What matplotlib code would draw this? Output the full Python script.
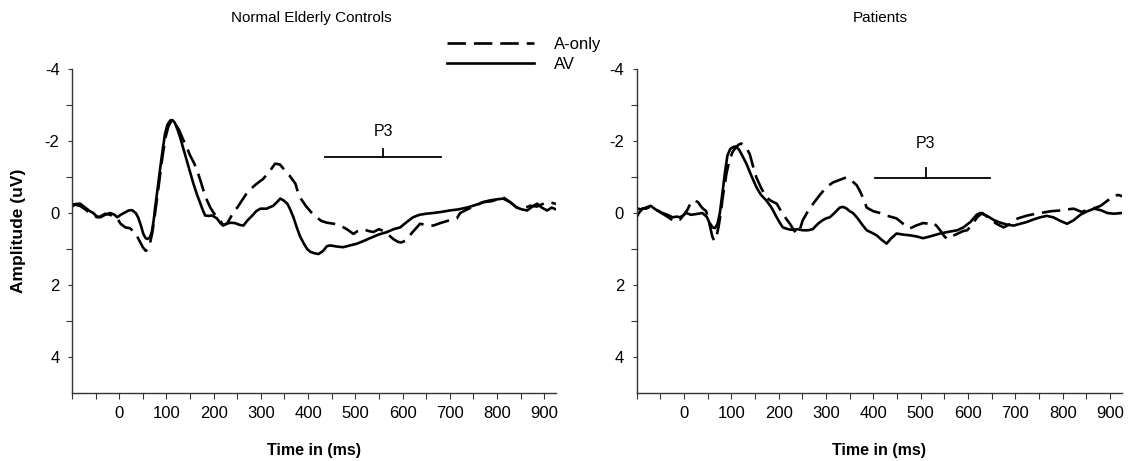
import numpy as np
import matplotlib.pyplot as plt

plt.rcParams['font.family'] = ['Liberation Sans', 'DejaVu Sans']
plt.rcParams['axes.unicode_minus'] = False

# Normal Elderly Controls, AV (ms, uV)
nc_av_t = [-100, -92, -83, -72, -62, -55, -47, -40, -30, -19, -10, -4, 3, 10, 20, 27, 35, 40, 46, 51,
           56, 60, 65, 69, 73, 76, 82, 87, 92, 97, 102, 108, 113, 118, 124, 129, 136, 143, 150, 157,
           165, 172, 177, 182, 190, 197, 207, 214, 220, 227, 235, 245, 255, 263, 272, 282, 290, 299,
           312, 326, 334, 341, 348, 356, 362, 369, 376, 383, 391, 398, 405, 414, 422, 432, 440, 447,
           460, 474, 489, 504, 517, 531, 549, 567, 581, 595, 609, 622, 636, 650, 665, 682, 700, 718,
           736, 754, 771, 790, 800, 813, 828, 842, 853, 864, 875, 885, 895, 906, 916, 925]
nc_av_v = [-0.18, -0.25, -0.26, -0.15, -0.05, 0.0, 0.1, 0.12, 0.05, 0.0, 0.05, 0.12, 0.05, 0.0, -0.07,
           -0.08, 0.0, 0.12, 0.35, 0.58, 0.7, 0.72, 0.68, 0.53, 0.2, -0.15, -0.75, -1.27, -1.75, -2.2,
           -2.45, -2.57, -2.58, -2.5, -2.3, -2.1, -1.78, -1.46, -1.14, -0.82, -0.5, -0.26, -0.08, 0.07,
           0.08, 0.07, 0.15, 0.28, 0.35, 0.3, 0.27, 0.28, 0.33, 0.35, 0.2, 0.07, -0.05, -0.12, -0.12,
           -0.2, -0.3, -0.4, -0.35, -0.26, -0.1, 0.12, 0.4, 0.65, 0.85, 1.0, 1.08, 1.12, 1.14, 1.05,
           0.92, 0.9, 0.93, 0.95, 0.9, 0.85, 0.78, 0.7, 0.6, 0.53, 0.45, 0.4, 0.25, 0.12, 0.05, 0.02,
           0.0, -0.03, -0.07, -0.1, -0.15, -0.22, -0.3, -0.33, -0.38, -0.4, -0.3, -0.15, -0.1, -0.07,
           -0.18, -0.26, -0.15, -0.07, -0.15, -0.1]

# Normal Elderly Controls, A-only
nc_a_t = [-100, -90, -83, -72, -62, -55, -47, -40, -30, -19, -10, -4, 3, 13, 22, 30, 38, 44, 50, 56,
          60, 65, 70, 75, 80, 86, 92, 98, 104, 110, 115, 120, 127, 135, 143, 150, 158, 165, 172, 179,
          186, 193, 200, 207, 214, 220, 228, 236, 243, 250, 260, 270, 277, 290, 305, 318, 330, 340,
          348, 360, 373, 378, 383, 395, 408, 418, 428, 440, 455, 468, 482, 496, 505, 517, 528, 538,
          550, 560, 570, 580, 590, 597, 606, 620, 637, 650, 665, 680, 700, 715, 722, 740, 758, 770,
          785, 800, 815, 828, 842, 855, 870, 885, 900, 912, 925]
nc_a_v = [-0.25, -0.22, -0.2, -0.1, 0.0, 0.05, 0.12, 0.1, 0.02, 0.05, 0.12, 0.15, 0.3, 0.4, 0.42,
          0.5, 0.65, 0.8, 0.95, 1.05, 1.02, 0.85, 0.55, 0.1, -0.4, -1.0, -1.6, -2.1, -2.4, -2.55,
          -2.57, -2.45, -2.3, -2.05, -1.83, -1.6, -1.4, -1.18, -0.9, -0.6, -0.35, -0.15, 0.0, 0.1,
          0.22, 0.33, 0.3, 0.12, -0.05, -0.15, -0.35, -0.55, -0.65, -0.8, -0.95, -1.15, -1.37,
          -1.35, -1.23, -1.05, -0.82, -0.6, -0.43, -0.2, 0.0, 0.12, 0.22, 0.27, 0.3, 0.35, 0.45,
          0.58, 0.5, 0.45, 0.5, 0.53, 0.45, 0.5, 0.6, 0.72, 0.8, 0.82, 0.77, 0.55, 0.3, 0.33, 0.35,
          0.28, 0.2, 0.15, 0.0, -0.12, -0.22, -0.3, -0.35, -0.38, -0.42, -0.3, -0.15, -0.12, -0.2,
          -0.18, -0.27, -0.3, -0.25]

# Patients, AV
pt_av_t = [-100, -90, -80, -70, -60, -45, -35, -24, -15, -8, 0, 5, 15, 26, 39, 48, 54, 61, 66, 71,
           76, 82, 87, 92, 98, 104, 110, 117, 125, 132, 142, 153, 163, 174, 185, 196, 203, 209, 220,
           230, 240, 251, 262, 272, 283, 293, 300, 308, 318, 329, 336, 343, 350, 357, 367, 378, 386,
           397, 407, 418, 428, 438, 449, 463, 477, 491, 505, 520, 541, 560, 577, 590, 605, 618, 626,
           640, 655, 668, 682, 696, 710, 724, 738, 752, 766, 780, 795, 809, 823, 837, 852, 866, 880,
           894, 908, 925]
pt_av_v = [-0.13, -0.1, -0.15, -0.2, -0.1, 0.0, 0.05, 0.12, 0.1, 0.12, 0.05, 0.0, 0.05, 0.03, 0.0,
           0.1, 0.27, 0.4, 0.42, 0.3, 0.0, -0.62, -1.15, -1.6, -1.78, -1.83, -1.85, -1.75, -1.55,
           -1.37, -1.05, -0.72, -0.5, -0.35, -0.15, 0.12, 0.28, 0.4, 0.45, 0.47, 0.45, 0.48, 0.48,
           0.45, 0.3, 0.2, 0.15, 0.12, 0.0, -0.15, -0.17, -0.13, -0.05, 0.0, 0.15, 0.35, 0.48, 0.55,
           0.62, 0.75, 0.85, 0.7, 0.57, 0.6, 0.62, 0.65, 0.7, 0.65, 0.57, 0.52, 0.48, 0.4, 0.25,
           0.05, 0.0, 0.08, 0.2, 0.27, 0.32, 0.35, 0.3, 0.25, 0.18, 0.12, 0.08, 0.12, 0.22, 0.3,
           0.2, 0.05, -0.05, -0.12, -0.08, 0.0, 0.02, 0.0]

# Patients, A-only
pt_a_t = [-100, -95, -87, -80, -70, -60, -45, -35, -24, -15, -8, 0, 8, 15, 22, 30, 38, 47, 54, 60,
          64, 68, 73, 78, 82, 90, 96, 103, 110, 116, 121, 127, 133, 139, 146, 153, 163, 174, 185,
          196, 203, 209, 217, 224, 231, 238, 245, 251, 262, 273, 287, 301, 315, 329, 343, 354, 365,
          372, 378, 386, 400, 414, 430, 449, 463, 477, 490, 505, 520, 527, 535, 541, 550, 556, 565,
          577, 590, 598, 610, 619, 630, 645, 660, 675, 690, 705, 725, 740, 753, 775, 795, 810, 823,
          840, 855, 870, 880, 895, 907, 918, 929]
pt_a_v = [0.12, 0.0, -0.13, -0.12, -0.18, -0.1, 0.02, 0.1, 0.2, 0.15, 0.18, 0.05, -0.1, -0.3,
          -0.35, -0.3, -0.15, -0.05, 0.3, 0.65, 0.77, 0.7, 0.4, 0.0, -0.43, -1.1, -1.46, -1.7,
          -1.83, -1.9, -1.93, -1.88, -1.78, -1.64, -1.3, -0.99, -0.7, -0.43, -0.33, -0.26, -0.1,
          0.03, 0.18, 0.3, 0.45, 0.57, 0.45, 0.2, -0.05, -0.26, -0.5, -0.72, -0.85, -0.92, -0.99,
          -0.9, -0.77, -0.6, -0.43, -0.15, -0.05, 0.0, 0.08, 0.15, 0.3, 0.43, 0.35, 0.28, 0.3,
          0.27, 0.38, 0.48, 0.65, 0.72, 0.65, 0.58, 0.5, 0.48, 0.3, 0.12, 0.0, 0.15, 0.3, 0.4,
          0.3, 0.15, 0.07, 0.03, 0.0, -0.05, -0.07, -0.1, -0.12, -0.03, -0.1, -0.15, -0.2, -0.35,
          -0.48, -0.5, -0.45]

# P3 window markers: start, end, centre (ms), level, tick top, label level (uV)
p3_nc = [436, 682, 559, -1.55, -1.78, -2.25]
p3_pt = [404, 647, 511, -0.97, -1.25, -1.93]

x_major = np.arange(0, 901, 100)
x_minor = np.arange(-100, 901, 50)
y_major = [-4, -2, 0, 2, 4]
y_minor = [-3, -1, 1, 3]

dash = (0, (7, 3))
lw = 1.9

fig = plt.figure(figsize=(11.3, 4.61), dpi=100)
ax1 = fig.add_axes([72/1130, 68/461, 484/1130, 324/461])
ax2 = fig.add_axes([636.5/1130, 68/461, 485.5/1130, 324/461])


def draw(ax, a_t, a_v, av_t, av_v, p3):
    la, = ax.plot(a_t, a_v, color='black', lw=lw, linestyle=dash, label='A-only')
    lav, = ax.plot(av_t, av_v, color='black', lw=lw, label='AV')
    # P3 bracket
    ax.plot([p3[0], p3[1]], [p3[3], p3[3]], color='black', lw=1.3)
    ax.plot([p3[2], p3[2]], [p3[3], p3[4]], color='black', lw=1.3)
    ax.text(p3[2], p3[5], 'P3', ha='center', va='center', fontsize=11.5)
    ax.set_xlim(-100, 925)
    ax.set_ylim(5, -4)
    ax.set_xticks(x_major)
    ax.set_xticks(x_minor, minor=True)
    ax.set_yticks(y_major)
    ax.set_yticks(y_minor, minor=True)
    ax.tick_params(axis='both', which='both', direction='out', length=4, width=0.8,
                   labelsize=12, color='#333333')
    ax.tick_params(axis='x', pad=5)
    ax.tick_params(axis='y', pad=6, length=3)
    for s in ['top', 'right']:
        ax.spines[s].set_visible(False)
    for s in ['left', 'bottom']:
        ax.spines[s].set_color('#333333')
        ax.spines[s].set_linewidth(1.0)
    ax.set_xlabel('Time in (ms)', fontweight='bold', fontsize=11.5)
    ax.xaxis.set_label_coords(0.5, -0.155)
    return la, lav


la, lav = draw(ax1, nc_a_t, nc_a_v, nc_av_t, nc_av_v, p3_nc)
draw(ax2, pt_a_t, pt_a_v, pt_av_t, pt_av_v, p3_pt)

ax1.set_ylabel('Amplitude (uV)', fontweight='bold', fontsize=12.5)
ax1.yaxis.set_label_coords(-0.095, 0.5)

fig.text(311/1130, 1 - 18/461, 'Normal Elderly Controls', ha='center', va='center', fontsize=11)
fig.text(880/1130, 1 - 18/461, 'Patients', ha='center', va='center', fontsize=11)

fig.legend([la, lav], ['A-only', 'AV'], loc='upper left', bbox_to_anchor=(447/1130, 1 - 37/461),
           frameon=False, handlelength=5.2, handletextpad=1.2, labelspacing=0.3,
           borderpad=0, borderaxespad=0, fontsize=12)

plt.savefig('out.png', dpi=100)
